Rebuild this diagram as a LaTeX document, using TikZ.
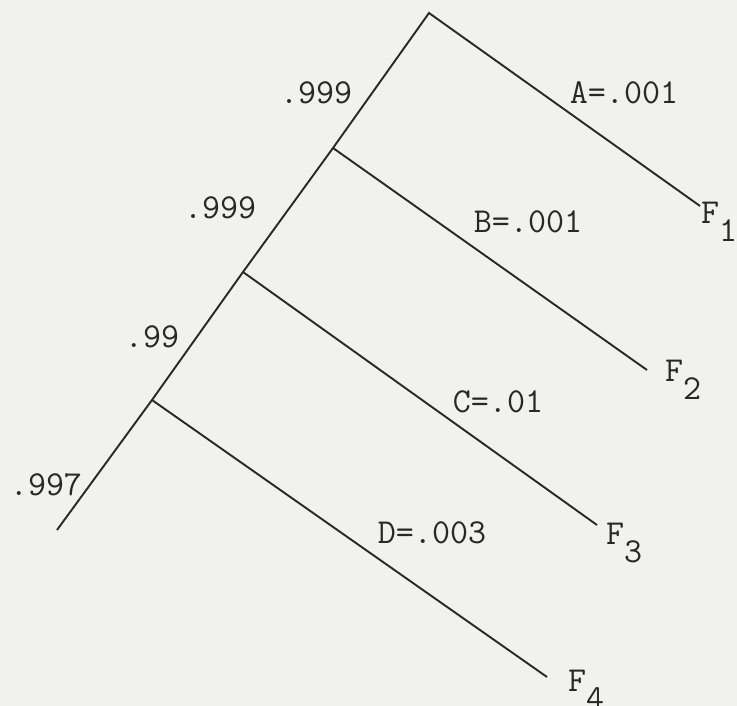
\documentclass[tikz,border=0pt]{standalone}
\usepackage{fontspec}
\definecolor{paper}{RGB}{241,241,239}
\definecolor{ink}{RGB}{40,40,40}
\begin{document}
\begin{tikzpicture}[x=1pt,y=-1pt,
  branch/.style={draw=ink,line width=1.9pt},
  lbl/.style={font=\fontsize{35}{35}\selectfont\ttfamily,text=ink,inner sep=0pt}]
\fill[paper] (0,0) rectangle (737,706);
\useasboundingbox (0,0) rectangle (737,706);
% junctions and ends
\coordinate (top) at (429,13);
\coordinate (jb) at (333,148);
\coordinate (jc) at (243,272);
\coordinate (jd) at (152,400);
\coordinate (bot) at (57,530);
\coordinate (ea) at (700,206);
\coordinate (eb) at (647,370);
\coordinate (ec) at (597,525);
\coordinate (ed) at (547,677);
% tree
\draw[branch,line join=miter] (ea) -- (top) -- (jb) -- (jc) -- (jd) -- (bot);
\draw[branch] (jb) -- (eb);
\draw[branch] (jc) -- (ec);
\draw[branch] (jd) -- (ed);
% success probabilities
\node[lbl] (s1) at (316,93) {.999};
\node[lbl] (s2) at (220,208) {.999};
\node[lbl] (s3) at (152,337) {.99};
\node[lbl] (s4) at (46,485) {.997};
% failure probabilities
\node[lbl] (pa) at (624,93) {A=.001};
\node[lbl] (pb) at (528,222) {B=.001};
\node[lbl] (pc) at (498,402) {C=.01};
\node[lbl] (pd) at (432,533) {D=.003};
% outcomes
\node[lbl,anchor=north west] (f1) at (701,202) {F\raisebox{-0.5em}{1}};
\node[lbl,anchor=north west] (f2) at (665,360) {F\raisebox{-0.5em}{2}};
\node[lbl,anchor=north west] (f3) at (606,523) {F\raisebox{-0.5em}{3}};
\node[lbl,anchor=north west] (f4) at (568,670) {F\raisebox{-0.5em}{4}};
\end{tikzpicture}
\end{document}
